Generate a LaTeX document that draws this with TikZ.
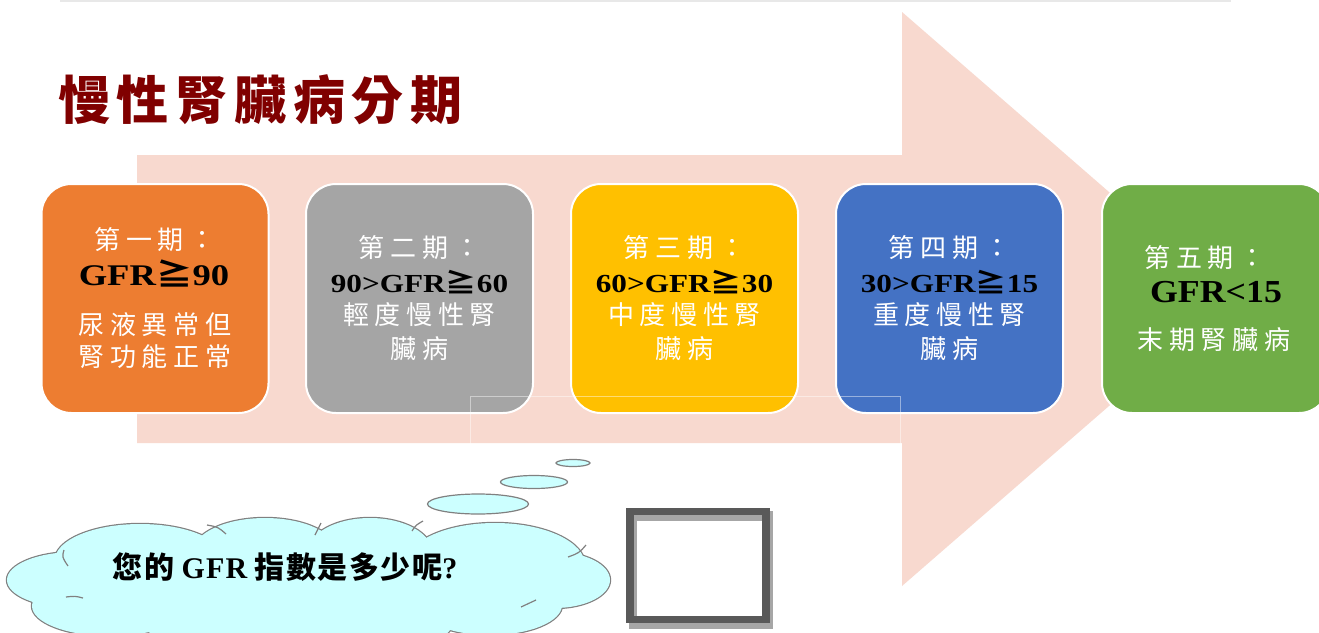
\documentclass[tikz,border=0pt]{standalone}
\usepackage{fontspec}
\usetikzlibrary{shapes.geometric}
\setmainfont{Liberation Serif}
\newfontfamily\cjk{Noto Sans CJK TC}
\newfontfamily\cjksp[LetterSpace=22]{Noto Sans CJK TC}
\newfontfamily\cjktitle[LetterSpace=13]{Noto Sans CJK TC}
\newfontfamily\serifQ[LetterSpace=4]{Liberation Serif}
\newfontfamily\cjkq[LetterSpace=5]{Noto Sans CJK TC}
\definecolor{arrowpink}{HTML}{F8D9CF}
\definecolor{c1}{HTML}{ED7D31}
\definecolor{c2}{HTML}{A5A5A5}
\definecolor{c3}{HTML}{FFC000}
\definecolor{c4}{HTML}{4472C4}
\definecolor{c5}{HTML}{70AD47}
\definecolor{titlered}{HTML}{800000}
\definecolor{cloudcyan}{HTML}{CCFFFF}
\definecolor{cloudgray}{HTML}{808080}
\definecolor{framegray}{HTML}{595959}
\definecolor{shadowgray}{HTML}{A6A6A6}
\definecolor{topline}{HTML}{E8E8E8}
\tikzset{
  stage/.style={draw=white, line width=2pt, rounded corners=30pt, minimum width=227pt, minimum height=229pt, inner sep=0pt},
  lbl/.style={text=white, font=\cjksp\fontsize{26}{28}\selectfont, inner sep=0pt},
  gfrA/.style={text=black, font=\fontsize{30}{32}\selectfont\bfseries, inner sep=0pt},
  gfrB/.style={text=black, font=\fontsize{26}{28}\selectfont\bfseries, inner sep=0pt},
  gfrC/.style={text=black, font=\fontsize{32}{34}\selectfont\bfseries, inner sep=0pt},
  cloudline/.style={draw=cloudgray, line width=2.4pt, fill=cloudcyan},
  cloudfill/.style={fill=cloudcyan},
  cloudarc/.style={draw=cloudgray, line width=1.2pt},
  bubble/.style={ellipse, draw=cloudgray, line width=1.2pt, fill=cloudcyan, inner sep=0pt}
}
\newcommand{\gte}{{\cjk ≧}}
\begin{document}
\begin{tikzpicture}[x=1pt, y=-1pt]
\useasboundingbox (0,0) rectangle (1319,632);
\clip (0,0) rectangle (1319,632);
\fill[white] (0,0) rectangle (1319,632);
% top line
\draw[topline, line width=2pt] (60,1) coordinate (tl1) -- (1231,1) coordinate (tl2);
% big arrow
\fill[arrowpink] (137,155) -- (902,155) -- (902,12) -- (1232,299) -- (902,586) -- (902,443) -- (137,443) -- cycle;
% title
\node[text=titlered, font=\cjktitle\bfseries\fontsize{52}{54}\selectfont, anchor=west, inner sep=0pt] (title) at (58,100) {慢性腎臟病分期};
% stage boxes
\node[stage, fill=c1] (b1) at (155,298.5) {};
\node[stage, fill=c2] (b2) at (419.5,298.5) {};
\node[stage, fill=c3] (b3) at (684.5,298.5) {};
\node[stage, fill=c4] (b4) at (949.5,298.5) {};
\node[stage, fill=c5] (b5) at (1215.5,298.5) {};
% box 1 text
\node[lbl] (t1a) at (155,240) {第一期：};
\node[gfrA] (t1b) at (154,273) {\scalebox{1.22}[1]{GFR\gte90}};
\node[lbl] (t1c) at (155,325) {尿液異常但};
\node[lbl] (t1d) at (155,357) {腎功能正常};
% box 2 text
\node[lbl] (t2a) at (419.5,248) {第二期：};
\node[gfrB] (t2b) at (419.5,282) {\scalebox{1.2}[1]{90>GFR\gte60}};
\node[lbl] (t2c) at (419.5,315) {輕度慢性腎};
\node[lbl] (t2d) at (419.5,349) {臟病};
% box 3 text
\node[lbl] (t3a) at (684.5,248) {第三期：};
\node[gfrB] (t3b) at (684.5,282) {\scalebox{1.2}[1]{60>GFR\gte30}};
\node[lbl] (t3c) at (684.5,315) {中度慢性腎};
\node[lbl] (t3d) at (684.5,349) {臟病};
% box 4 text
\node[lbl] (t4a) at (949.5,248) {第四期：};
\node[gfrB] (t4b) at (949.5,282) {\scalebox{1.2}[1]{30>GFR\gte15}};
\node[lbl] (t4c) at (949.5,315) {重度慢性腎};
\node[lbl] (t4d) at (949.5,349) {臟病};
% box 5 text
\node[lbl] (t5a) at (1205,258) {第五期：};
\node[gfrC] (t5b) at (1216,292) {\scalebox{1.12}[1]{GFR<15}};
\node[lbl] (t5c) at (1214,340) {末期腎臟病};
% faint lines
\draw[white, opacity=0.45, line width=0.8pt] (470,445) coordinate (f1) -- (470,396) coordinate (f2) -- (900,396) coordinate (f3) -- (900,445) coordinate (f4);
% cloud lobes
\def\lobes{75/580/68/28, 140/560/85/36, 265/552/72/34, 370/552/62/34, 495/565/90/42, 555/580/55/28, 490/605/72/30, 370/618/85/36, 230/618/88/36, 110/606/78/30}
\foreach \cx/\cy/\rx/\ry in \lobes {\draw[cloudline] (\cx,\cy) ellipse [x radius=\rx pt, y radius=\ry pt];}
\foreach \cx/\cy/\rx/\ry in \lobes {\fill[cloudfill] (\cx,\cy) ellipse [x radius=\rx pt, y radius=\ry pt];}
\fill[cloudfill] (300,585) ellipse [x radius=240pt, y radius=45pt];
% interior arcs
\draw[cloudarc] (64,550) .. controls (62,557) .. (68,566);
\draw[cloudarc] (207,525) .. controls (218,527) .. (226,534);
\draw[cloudarc] (321,523) .. controls (318,529) .. (315,535);
\draw[cloudarc] (423,521) .. controls (416,525) .. (412,531);
\draw[cloudarc] (568,557) .. controls (579,553) .. (586,545);
\draw[cloudarc] (536,600) .. controls (529,604) .. (521,607);
\draw[cloudarc] (66,597) .. controls (75,596) .. (83,598);
\node[font=\fontsize{30}{32}\selectfont\bfseries, inner sep=0pt] (q) at (285,567) {{\cjkq 您的} {\serifQ GFR} {\cjkq 指數是多少呢}?};
% thought bubbles
\node[bubble, minimum width=101pt, minimum height=20pt] (e1) at (478,504) {};
\node[bubble, minimum width=67pt, minimum height=13pt] (e2) at (534,482) {};
\node[bubble, minimum width=34pt, minimum height=7pt] (e3) at (573,463) {};
% square
\fill[shadowgray] (629,511) rectangle (773,629);
\fill[framegray] (626,508) rectangle (770,623);
\fill[shadowgray] (634,515) rectangle (762,616);
\fill[white] (637,521) rectangle (762,616);
\coordinate (sq) at (698,565);
\end{tikzpicture}
\end{document}
